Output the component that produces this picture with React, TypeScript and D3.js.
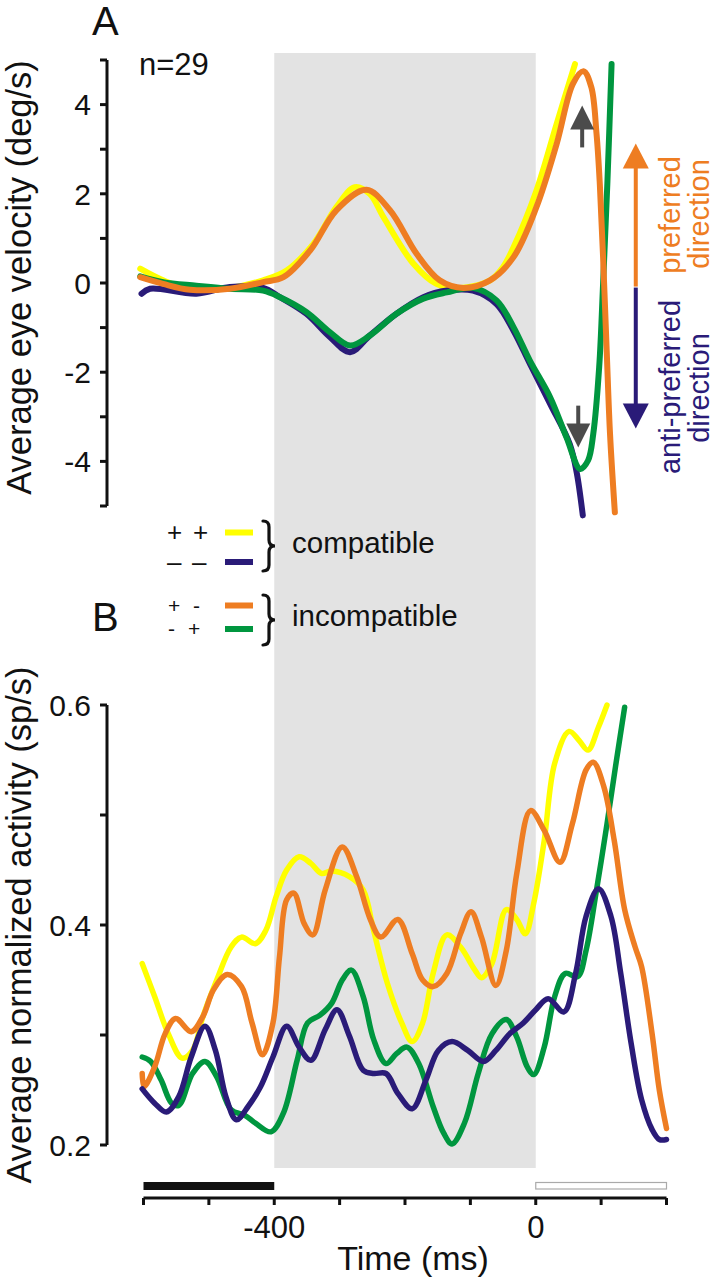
import React from 'react';
import * as d3 from 'd3';

type P = [number, number];

// ---------- axes / ticks ----------
const timeTicks = [-600, -500, -400, -300, -200, -100, 0, 100, 200];
const timeLabels = [-400, 0];
const velTicks = [-5, -4, -3, -2, -1, 0, 1, 2, 3, 4, 5];
const velLabels = [-4, -2, 0, 2, 4];
const actTicks = [0.2, 0.3, 0.4, 0.5, 0.6];
const actLabels = [0.2, 0.4, 0.6];
const shadeWindow = [-400, 0];
const fixationBar = [-600, -400];
const targetBar = [0, 200];

// ---------- Panel A: average eye velocity (deg/s) ----------
const eyePP: P[] = [
  [-605, 0.32], [-570, 0.06], [-529, -0.13], [-468, -0.11], [-417, 0.06], [-381, 0.28],
  [-340, 0.88], [-305, 1.7], [-277, 2.15], [-254, 2.0], [-233, 1.48], [-187, 0.43],
  [-152, -0.02], [-116, -0.11], [-70, 0.06], [-50, 0.36], [-34, 0.8], [1, 2.07],
  [32, 3.57], [60, 4.91],
];
const eyeMM: P[] = [
  [-603, -0.24], [-590, -0.13], [-519, -0.24], [-468, -0.09], [-417, -0.11], [-391, -0.32],
  [-351, -0.69], [-315, -1.21], [-284, -1.55], [-254, -1.18], [-213, -0.69], [-172, -0.32],
  [-136, -0.17], [-96, -0.17], [-60, -0.47], [-34, -1.07], [-9, -1.81], [22, -2.71],
  [52, -3.61], [63, -4.28], [72, -5.21],
];
const eyePM: P[] = [
  [-605, 0.13], [-570, -0.02], [-529, -0.15], [-468, -0.13], [-417, 0.02], [-386, 0.13],
  [-345, 0.73], [-305, 1.63], [-259, 2.09], [-223, 1.63], [-182, 0.65], [-147, 0.06],
  [-111, -0.11], [-70, 0.06], [-34, 0.58], [1, 1.7], [32, 3.12], [57, 4.47], [73, 4.75],
  [85, 4.39], [93, 3.34], [98, 2.22], [103, 0.58], [108.5, -1.51], [113.6, -3.38],
  [121, -5.14],
];
const eyeMP: P[] = [
  [-605, 0.15], [-570, 0.02], [-519, -0.06], [-468, -0.13], [-417, -0.17], [-391, -0.32],
  [-351, -0.65], [-315, -1.1], [-284, -1.4], [-254, -1.18], [-213, -0.69], [-172, -0.35],
  [-136, -0.21], [-96, -0.11], [-60, -0.39], [-34, -0.99], [-9, -1.74], [22, -2.56],
  [47, -3.46], [68, -4.17], [80, -3.98], [88, -3.38], [97, -1.89], [103, -0.02],
  [109.5, 2.22], [116, 4.91],
];

// ---------- Panel B: average normalized activity (sp/s) ----------
const actPP: P[] = [
  [-602, 0.365], [-583, 0.335], [-562, 0.301], [-541, 0.279], [-525, 0.286], [-509, 0.317],
  [-488, 0.35], [-466, 0.38], [-450, 0.389], [-429, 0.383], [-413, 0.395], [-397, 0.426],
  [-381, 0.45], [-362, 0.462], [-344, 0.456], [-328, 0.447], [-312, 0.449], [-285, 0.444],
  [-264, 0.432], [-248, 0.395], [-227, 0.347], [-205, 0.311], [-189, 0.294], [-173, 0.311],
  [-157, 0.356], [-136, 0.391], [-115, 0.38], [-93, 0.359], [-83, 0.352], [-67, 0.365],
  [-45, 0.414], [-29, 0.405], [-16, 0.392], [-3, 0.42], [13, 0.477], [29, 0.547],
  [51, 0.576], [66, 0.568], [80, 0.559], [96, 0.58], [109, 0.6],
];
const actMM: P[] = [
  [-602, 0.251], [-583, 0.238], [-565, 0.23], [-546, 0.244], [-527, 0.28], [-506, 0.308],
  [-490, 0.286], [-474, 0.244], [-458, 0.223], [-440, 0.235], [-421, 0.253], [-402, 0.28],
  [-381, 0.308], [-362, 0.289], [-344, 0.277], [-322, 0.305], [-304, 0.323], [-285, 0.299],
  [-264, 0.268], [-248, 0.265], [-229, 0.265], [-211, 0.247], [-189, 0.233], [-168, 0.259],
  [-149, 0.286], [-128, 0.294], [-104, 0.286], [-80, 0.276], [-61, 0.286], [-40, 0.301],
  [-19, 0.311], [0, 0.323], [19, 0.333], [43, 0.321], [61, 0.356], [77, 0.408],
  [96, 0.433], [115, 0.408], [130, 0.356], [146, 0.292], [162, 0.241], [178, 0.214],
  [189, 0.205], [200, 0.205],
];
const actPM: P[] = [
  [-602, 0.265], [-599, 0.253], [-583, 0.271], [-567, 0.301], [-551, 0.315], [-527, 0.303],
  [-509, 0.317], [-493, 0.341], [-472, 0.355], [-450, 0.344], [-434, 0.311], [-418, 0.282],
  [-402, 0.311], [-392, 0.371], [-381, 0.423], [-370, 0.429], [-354, 0.401], [-341, 0.391],
  [-322, 0.432], [-296, 0.471], [-274, 0.444], [-253, 0.405], [-237, 0.389], [-211, 0.405],
  [-189, 0.374], [-173, 0.35], [-157, 0.344], [-136, 0.356], [-115, 0.392], [-99, 0.412],
  [-83, 0.389], [-61, 0.345], [-45, 0.377], [-29, 0.447], [-8, 0.504], [13, 0.486],
  [37, 0.457], [56, 0.492], [77, 0.541], [88, 0.548], [104, 0.526], [120, 0.477],
  [136, 0.414], [152, 0.38], [162, 0.362], [178, 0.301], [189, 0.25], [200, 0.215],
];
const actMP: P[] = [
  [-602, 0.28], [-589, 0.276], [-573, 0.259], [-557, 0.238], [-546, 0.236], [-525, 0.265],
  [-506, 0.276], [-488, 0.262], [-466, 0.232], [-445, 0.227], [-429, 0.22], [-405, 0.212],
  [-386, 0.229], [-365, 0.277], [-349, 0.311], [-330, 0.318], [-312, 0.329], [-296, 0.35],
  [-282, 0.359], [-264, 0.335], [-248, 0.296], [-229, 0.274], [-213, 0.283], [-197, 0.289],
  [-179, 0.274], [-157, 0.235], [-141, 0.211], [-128, 0.201], [-109, 0.22], [-88, 0.265],
  [-67, 0.301], [-45, 0.314], [-29, 0.298], [-13, 0.271], [-3, 0.264], [13, 0.289],
  [29, 0.335], [45, 0.356], [64, 0.353], [77, 0.377], [93, 0.432], [109, 0.492],
  [122, 0.544], [136, 0.598],
];

const YELLOW = '#ffff00';
const NAVY = '#2a1b78';
const ORANGE = '#ee7d22';
const GREEN = '#00963f';
const SHADE = '#e3e3e3';
const ARROW_GRAY = '#4b4b4b';

// legend: pairs of rows per group; each row has two sign symbols
const legendGroups = ['compatible', 'incompatible'];
const legendSigns = [
  [['+', '+'], ['\u2013', '\u2013']],
  [['+', '-'], ['-', '+']],
];
const legendColors = [
  [YELLOW, NAVY],
  [ORANGE, GREEN],
];

// annotation arrows (data coords: time, velocity)
const upArrow = { t: 71, tip: 3.98, tail: 3.04 };
const downArrow = { t: 65, tip: -3.69, tail: -2.75 };
const dirArrow = { t: 153, top: 3.13, mid: -0.08, bottom: -3.26 };

const FONT = '"Liberation Sans", Arial, Helvetica, sans-serif';

function brace(x0: number, y0: number, y1: number, w: number) {
  const ym = (y0 + y1) / 2;
  const xm = x0 + w * 0.5;
  const r = (y1 - y0) * 0.12;
  return `M${x0},${y0} Q${xm},${y0} ${xm},${y0 + r} L${xm},${ym - r} Q${xm},${ym} ${x0 + w},${ym} Q${xm},${ym} ${xm},${ym + r} L${xm},${y1 - r} Q${xm},${y1} ${x0},${y1}`;
}

export default function App() {
  const x = d3.scaleLinear().domain([-600, 200]).range([143.5, 666.5]);
  const yA = d3.scaleLinear().domain([-5, 5]).range([506, 60]);
  const yB = d3.scaleLinear().domain([0.2, 0.6]).range([1145, 705]);
  const curve = d3.curveCatmullRom.alpha(0.5);
  const lineA = d3.line<P>().x((d) => x(d[0])).y((d) => yA(d[1])).curve(curve);
  const lineB = d3.line<P>().x((d) => x(d[0])).y((d) => yB(d[1])).curve(curve);

  const axisX = 107;
  const xAxisY = 1198;

  const seriesA = [
    { d: eyePP, c: YELLOW },
    { d: eyeMM, c: NAVY },
    { d: eyeMP, c: GREEN },
    { d: eyePM, c: ORANGE },
  ];
  const seriesB = [
    { d: actPP, c: YELLOW },
    { d: actMP, c: GREEN },
    { d: actPM, c: ORANGE },
    { d: actMM, c: NAVY },
  ];

  const legendRowY = [[532.5, 562], [605.5, 629]];
  const signX = [[[167, 193], [167, 192]], [[168, 193], [168, 188]]];
  const signSize = [26, 21];
  const braceRanges = [[521, 571], [595, 645]];
  const groupBaselines = [553, 626];

  const headW = 12;
  const headL = 24;

  return (
    <svg
      width={716}
      height={1280}
      viewBox="0 0 716 1280"
      style={{ position: 'absolute', left: 0, top: 0, background: '#fff' }}
      fontFamily={FONT}
    >
      <defs>
        <clipPath id="clipA">
          <rect x={110} y={61} width={560} height={470} />
        </clipPath>
      </defs>
      <rect x={0} y={0} width={716} height={1280} fill="#fff" />
      {/* shaded window */}
      <rect
        x={x(shadeWindow[0])}
        y={53}
        width={x(shadeWindow[1]) - x(shadeWindow[0])}
        height={1168 - 53}
        fill={SHADE}
      />

      {/* Panel letters */}
      <text x={92} y={35} fontSize={40} fill="#111">A</text>
      <text x={92} y={631} fontSize={40} fill="#111">B</text>
      <text x={139} y={75} fontSize={31} fill="#111">n=29</text>

      {/* Panel A y axis */}
      <line x1={axisX} x2={axisX} y1={yA(5)} y2={yA(-5)} stroke="#111" strokeWidth={3} />
      {velTicks.map((v) => (
        <line key={v} x1={axisX - 7} x2={axisX} y1={yA(v)} y2={yA(v)} stroke="#111" strokeWidth={3} />
      ))}
      {velLabels.map((v) => (
        <text key={v} x={91} y={yA(v)} dy="0.36em" textAnchor="end" fontSize={30} fill="#111">
          {v}
        </text>
      ))}
      <text
        transform={`translate(31,277.5) rotate(-90)`}
        textAnchor="middle"
        fontSize={34.5}
        fill="#111"
      >
        Average eye velocity (deg/s)
      </text>

      {/* Panel A curves */}
      <g clipPath="url(#clipA)" fill="none" strokeLinejoin="round">
        {seriesA.map((s, i) => (
          <path key={i} d={lineA(s.d) || ''} stroke={s.c} strokeWidth={6} strokeLinecap="round" />
        ))}
      </g>

      {/* gray arrows */}
      <g fill={ARROW_GRAY}>
        <rect x={x(upArrow.t) - 2} y={yA(upArrow.tip) + headL - 1} width={4} height={yA(upArrow.tail) - yA(upArrow.tip) - headL + 1} />
        <polygon
          points={`${x(upArrow.t)},${yA(upArrow.tip)} ${x(upArrow.t) - headW},${yA(upArrow.tip) + headL} ${x(upArrow.t) + headW},${yA(upArrow.tip) + headL}`}
        />
        <rect x={x(downArrow.t) - 2} y={yA(downArrow.tail)} width={4} height={yA(downArrow.tip) - yA(downArrow.tail) - headL + 1} />
        <polygon
          points={`${x(downArrow.t)},${yA(downArrow.tip)} ${x(downArrow.t) - headW},${yA(downArrow.tip) - headL} ${x(downArrow.t) + headW},${yA(downArrow.tip) - headL}`}
        />
      </g>

      {/* direction arrows */}
      <g>
        <rect x={x(dirArrow.t) - 2} y={yA(dirArrow.top) + headL - 1} width={4} height={yA(dirArrow.mid) - yA(dirArrow.top) - headL + 1} fill={ORANGE} />
        <polygon
          fill={ORANGE}
          points={`${x(dirArrow.t)},${yA(dirArrow.top)} ${x(dirArrow.t) - 13},${yA(dirArrow.top) + headL + 1} ${x(dirArrow.t) + 13},${yA(dirArrow.top) + headL + 1}`}
        />
        <rect x={x(dirArrow.t) - 2} y={yA(dirArrow.mid) + 1} width={4} height={yA(dirArrow.bottom) - yA(dirArrow.mid) - headL} fill={NAVY} />
        <polygon
          fill={NAVY}
          points={`${x(dirArrow.t)},${yA(dirArrow.bottom)} ${x(dirArrow.t) - 13},${yA(dirArrow.bottom) - headL - 1} ${x(dirArrow.t) + 13},${yA(dirArrow.bottom) - headL - 1}`}
        />
      </g>
      <g fontSize={29} textAnchor="middle">
        <text transform="translate(680,215) rotate(-90)" fill={ORANGE}>preferred</text>
        <text transform="translate(709,214) rotate(-90)" fill={ORANGE}>direction</text>
        <text transform="translate(680,387) rotate(-90)" fill={NAVY}>anti-preferred</text>
        <text transform="translate(709,388) rotate(-90)" fill={NAVY}>direction</text>
      </g>

      {/* legend */}
      {legendGroups.map((g, gi) => (
        <g key={g}>
          {legendSigns[gi].map((row, ri) => (
            <text key={ri} fontSize={signSize[gi]} fill="#111">
              {row.map((s, si) => (
                <tspan key={si} x={signX[gi][ri][si]} y={legendRowY[gi][ri]} dy="0.34em">
                  {s}
                </tspan>
              ))}
            </text>
          ))}
          {legendColors[gi].map((c, ri) => (
            <rect key={ri} x={225} y={legendRowY[gi][ri] - 3} width={28} height={6} fill={c} />
          ))}
          <path d={brace(263, braceRanges[gi][0], braceRanges[gi][1], 12)} fill="none" stroke="#111" strokeWidth={3.2} strokeLinecap="round" />
          <text x={292} y={groupBaselines[gi]} fontSize={29.5} fill="#111">
            {g}
          </text>
        </g>
      ))}

      {/* Panel B y axis */}
      <line x1={axisX} x2={axisX} y1={yB(0.6)} y2={yB(0.2)} stroke="#111" strokeWidth={3} />
      {actTicks.map((v) => (
        <line key={v} x1={axisX - 7} x2={axisX} y1={yB(v)} y2={yB(v)} stroke="#111" strokeWidth={3} />
      ))}
      {actLabels.map((v) => (
        <text key={v} x={91} y={yB(v)} dy="0.36em" textAnchor="end" fontSize={30} fill="#111">
          {v.toFixed(1)}
        </text>
      ))}
      <text
        transform={`translate(31,925) rotate(-90)`}
        textAnchor="middle"
        fontSize={34.5}
        fill="#111"
      >
        Average normalized activity (sp/s)
      </text>

      {/* Panel B curves */}
      <g fill="none" strokeLinejoin="round">
        {seriesB.map((s, i) => (
          <path key={i} d={lineB(s.d) || ''} stroke={s.c} strokeWidth={5.5} strokeLinecap="round" />
        ))}
      </g>

      {/* event bars */}
      <rect x={x(fixationBar[0])} y={1182} width={x(fixationBar[1]) - x(fixationBar[0])} height={8} fill="#111" />
      <rect x={x(targetBar[0])} y={1182.5} width={x(targetBar[1]) - x(targetBar[0])} height={6.5} fill="#fff" stroke="#aaa" strokeWidth={1.2} />

      {/* x axis */}
      <line x1={x(-600)} x2={x(200)} y1={xAxisY} y2={xAxisY} stroke="#111" strokeWidth={3} />
      {timeTicks.map((t) => (
        <line key={t} x1={x(t)} x2={x(t)} y1={xAxisY} y2={xAxisY + 7} stroke="#111" strokeWidth={3} />
      ))}
      {timeLabels.map((t) => (
        <text key={t} x={x(t)} y={1238} textAnchor="middle" fontSize={31} fill="#111">
          {t}
        </text>
      ))}
      <text x={413} y={1270} textAnchor="middle" fontSize={34} fill="#111">
        Time (ms)
      </text>
    </svg>
  );
}
